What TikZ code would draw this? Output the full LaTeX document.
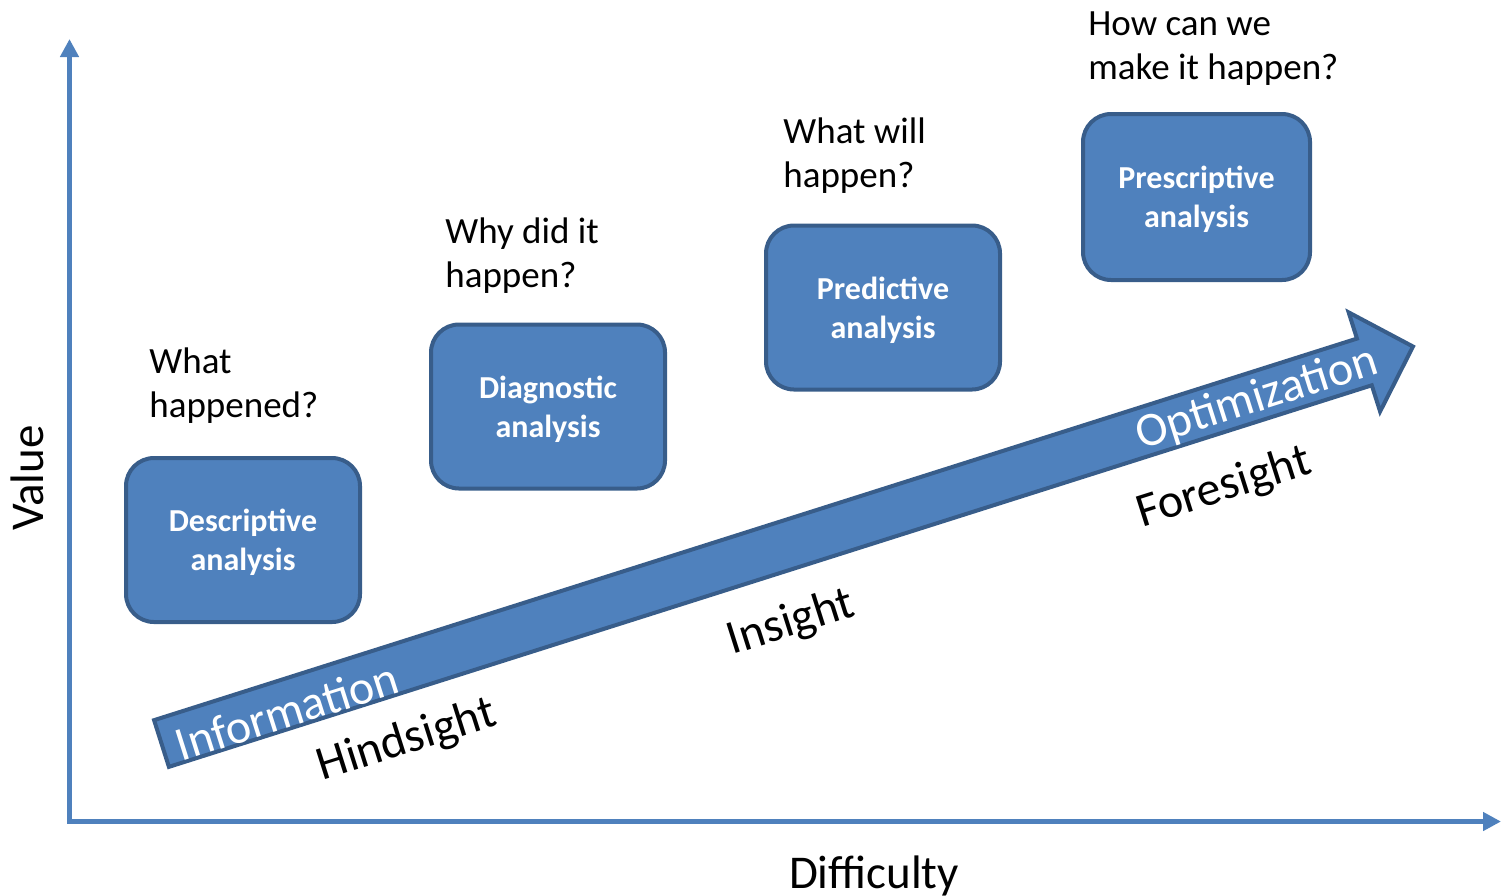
\documentclass[tikz,border=0pt]{standalone}
\usepackage{fontspec}
\setmainfont{Carlito}
\usetikzlibrary{arrows.meta}
\definecolor{officeblue}{HTML}{4F81BD}
\definecolor{officeedge}{HTML}{385D8A}
\newcommand{\boxstrut}{\rule{0pt}{14pt}}
\tikzset{
  stagebox/.style={draw=officeedge, fill=officeblue, line width=2pt,
    rounded corners=14pt, minimum width=117pt, minimum height=82pt,
    text=white, align=center, inner sep=0pt,
    font=\fontsize{16pt}{19.5pt}\selectfont\bfseries},
  question/.style={anchor=base west, align=left, inner sep=0pt,
    font=\fontsize{18.5pt}{22pt}\selectfont},
  axislabel/.style={inner sep=0pt, font=\fontsize{23.5pt}{28pt}\selectfont},
  arrowtext/.style={inner sep=0pt, rotate=17.6, font=\fontsize{24pt}{28pt}\selectfont},
  axis/.style={draw=officeblue, line width=2.5pt,
    {Triangle[width=9pt,length=9pt]}-{Triangle[width=9pt,length=9pt]}},
  bigarrow/.style={draw=officeedge, fill=officeblue, line width=2pt, line join=miter}
}
\begin{document}
\begin{tikzpicture}[x=0.5pt, y=-0.5pt]
\useasboundingbox (0,0) rectangle (1502,895);

% axes
\coordinate (O) at (69.5,821.5);
\coordinate (Ytop) at (69.5,39);
\coordinate (Xend) at (1501,821.5);
\draw[axis] (Ytop) -- (O) -- (Xend);
\node[axislabel, rotate=90, anchor=base] (value) at (43,478) {Value};
\node[axislabel, anchor=base] (difficulty) at (874,888) {Difficulty};

% broad progress arrow
\begin{scope}[shift={(161.5,743.5)}, rotate=17.6]
  \draw[bigarrow] (0,-24.5) -- (1262,-24.5) -- (1262,-52) -- (1313,0)
    -- (1262,52) -- (1262,24.5) -- (0,24.5) -- cycle;
\end{scope}
\node[arrowtext, text=white] (information) at (287,711) {Information};
\node[arrowtext, text=white] (optimization) at (1257,399) {Optimization};
\node[arrowtext] (hindsight) at (407,741) {Hindsight};
\node[arrowtext] (insight) at (791,623) {Insight};
\node[arrowtext] (foresight) at (1224,488) {Foresight};

% analysis stages
\node[stagebox] (descriptive) at (243,540) {\boxstrut Descriptive\\analysis};
\node[stagebox] (diagnostic) at (548,406.5) {\boxstrut Diagnostic\\analysis};
\node[stagebox] (predictive) at (883,307.5) {\boxstrut Predictive\\analysis};
\node[stagebox, minimum width=113.5pt, minimum height=83pt] (prescriptive) at (1196.5,197) {\boxstrut Prescriptive\\analysis};

% questions (anchored at the baseline of the last line)
\node[question] (q1) at (149,417) {What\\happened?};
\node[question] (q2) at (445,287) {Why did it\\happen?};
\node[question] (q3) at (783,187) {What will\\happen?};
\node[question] (q4) at (1088,79) {How can we\\make it happen?};
\end{tikzpicture}
\end{document}
